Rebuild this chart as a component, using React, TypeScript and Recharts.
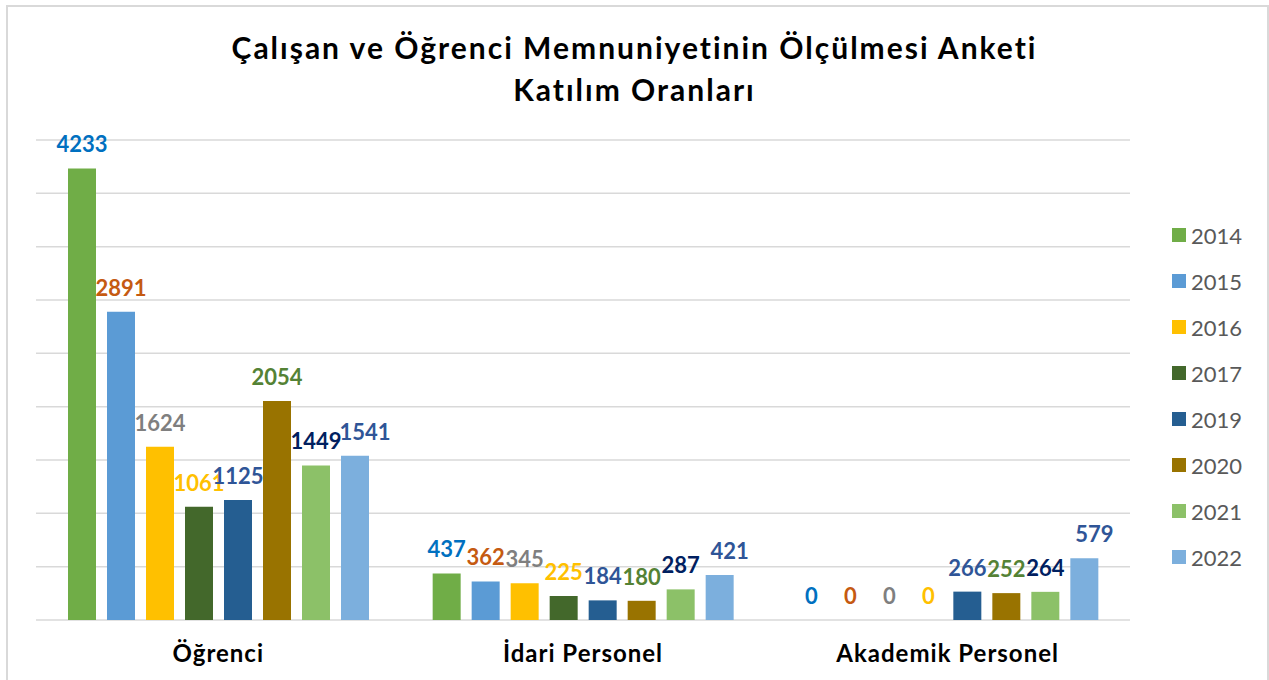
import React from 'react'
import { Bar, BarChart, CartesianGrid, LabelList, Legend, XAxis, YAxis } from 'recharts'

const CATEGORIES = ['Öğrenci', 'İdari Personel', 'Akademik Personel']
const YEARS = ['2014', '2015', '2016', '2017', '2019', '2020', '2021', '2022']

const Y2014 = [4233, 437, 0]
const Y2015 = [2891, 362, 0]
const Y2016 = [1624, 345, 0]
const Y2017 = [1061, 225, 0]
const Y2019 = [1125, 184, 266]
const Y2020 = [2054, 180, 252]
const Y2021 = [1449, 287, 264]
const Y2022 = [1541, 421, 579]
const SERIES = [Y2014, Y2015, Y2016, Y2017, Y2019, Y2020, Y2021, Y2022]

const Y_TICKS = [0, 500, 1000, 1500, 2000, 2500, 3000, 3500, 4000, 4500]

const BAR_COLORS = ['#70AD47', '#5B9BD5', '#FFC000', '#43682B', '#255E91', '#997300', '#8CC168', '#7CAFDD']
const LABEL_COLORS = ['#0070C0', '#C55A11', '#7F7F7F', '#FFC000', '#2F5597', '#548235', '#002060', '#2F5597']

const FONT = 'Lato, "Noto Sans", sans-serif'

const data = CATEGORIES.map((name, i) => {
  const row: any = { name }
  YEARS.forEach((y, j) => { row[y] = SERIES[j][i] })
  return row
})

// the last series' labels sit a little right of their bars in the original
const labelShift = (i: number) => (i === YEARS.length - 1 ? 10 : 0)

function LegendBox({ payload }: any) {
  return (
    <div style={{ fontFamily: FONT }}>
      {(payload || []).map((p: any) => (
        <div key={p.value} style={{ display: 'flex', alignItems: 'center', height: 46 }}>
          <span style={{ width: 14, height: 14, background: p.color, marginRight: 5 }} />
          <span style={{ fontSize: 22, color: '#595959' }}>{p.value}</span>
        </div>
      ))}
    </div>
  )
}

export default function App() {
  return (
    <div style={{ position: 'absolute', left: 0, top: 0, width: 1269, height: 680, overflow: 'hidden', background: '#fff' }}>
      <div style={{
        position: 'absolute', left: 6, top: 5, width: 1259, height: 700,
        border: '2px solid #D9D9D9'
      }} />
      <div style={{
        position: 'absolute', left: 0, top: 26, width: 1269, textAlign: 'center',
        fontFamily: FONT, fontWeight: 'bold', fontSize: 30, letterSpacing: 2, lineHeight: '42px', color: '#000'
      }}>
        Çalışan ve Öğrenci Memnuniyetinin Ölçülmesi Anketi<br />Katılım Oranları
      </div>
      <BarChart
        width={1269}
        height={680}
        data={data}
        margin={{ top: 140, right: 139, bottom: 20, left: 36 }}
        barSize={28}
        barGap={11}
        style={{ position: 'absolute', left: 0, top: 0 }}
      >
        <CartesianGrid vertical={false} stroke="#D9D9D9" strokeWidth={1.5} />
        <XAxis
          dataKey="name"
          axisLine={false}
          tickLine={false}
          height={40}
          tickMargin={19}
          tick={{ fontFamily: FONT, fontWeight: 'bold', fontSize: 24, letterSpacing: 1, fill: '#000' }}
        />
        <YAxis hide domain={[0, 4500]} ticks={Y_TICKS} />
        <Legend
          layout="vertical"
          align="center"
          verticalAlign="middle"
          content={<LegendBox />}
          wrapperStyle={{ left: 1172, top: 212, width: 90 }}
        />
        {YEARS.map((y, i) => (
          <Bar key={y} dataKey={y} name={y} fill={BAR_COLORS[i]} minPointSize={0.01} isAnimationActive={false}>
            <LabelList
              dataKey={y}
              position="top"
              offset={16}
              dx={labelShift(i)}
              formatter={(v: any) => String(v)}
              fill={LABEL_COLORS[i]}
              style={{ fontFamily: FONT, fontWeight: 'bold', fontSize: 22 }}
            />
          </Bar>
        ))}
      </BarChart>
    </div>
  )
}
